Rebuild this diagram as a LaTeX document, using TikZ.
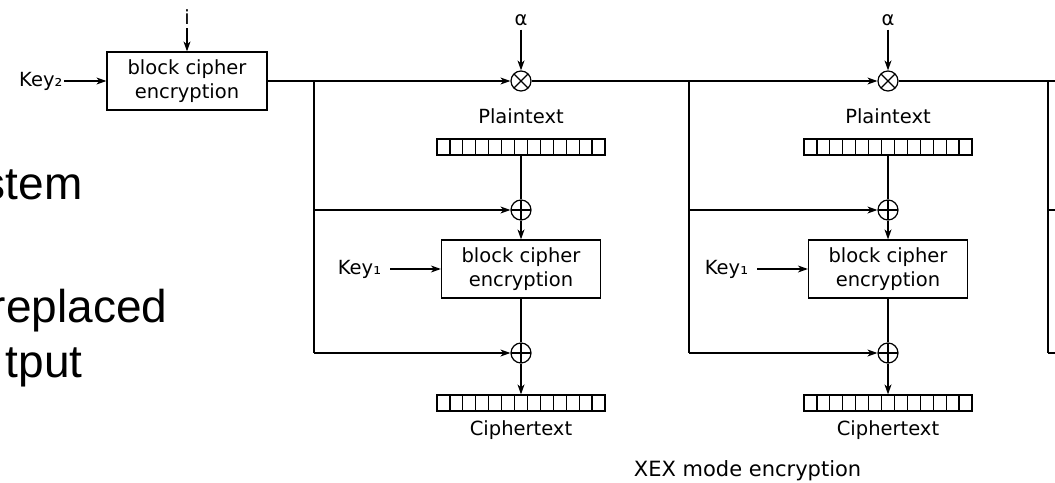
\documentclass[tikz,border=0pt]{standalone}
\usepackage{fontspec}
\usetikzlibrary{arrows.meta, positioning, calc}
\newfontfamily\diagfont{DejaVu Sans}
\newfontfamily\slidefont{Liberation Sans}

\begin{document}
\begin{tikzpicture}[
    x=1pt, y=-1pt,
    font=\diagfont\fontsize{19.5}{24}\selectfont,
    line width=1.2pt,
    cipher/.style={rectangle, draw, minimum width=159pt, minimum height=58pt, align=center, inner sep=0pt},
    arrow/.style={-{Stealth[length=10pt, width=7pt, inset=3pt]}},
    mulop/.style={circle, draw, minimum size=20pt, inner sep=0pt,
        path picture={\draw ($(path picture bounding box.center)+(45:10pt)$) -- ($(path picture bounding box.center)+(225:10pt)$)
                            ($(path picture bounding box.center)+(135:10pt)$) -- ($(path picture bounding box.center)+(315:10pt)$);}},
    xorop/.style={circle, draw, minimum size=20pt, inner sep=0pt,
        path picture={\draw (path picture bounding box.north) -- (path picture bounding box.south)
                            (path picture bounding box.west) -- (path picture bounding box.east);}},
    reg/.style={rectangle, draw, minimum width=168pt, minimum height=16pt, inner sep=0pt,
        path picture={\foreach \k in {1,...,12}
            \draw ($(path picture bounding box.north west)!\k/13!(path picture bounding box.north east)$)
               -- ($(path picture bounding box.south west)!\k/13!(path picture bounding box.south east)$);}},
    slide/.style={font=\slidefont\fontsize{46}{55}\selectfont, anchor=base east, inner sep=0pt}
]
    \useasboundingbox (0,0) rectangle (1055,482);
    \clip (0,0) rectangle (1055,482);

    % slide text cut by the left edge
    \node[slide] (s1) at (83,199) {stem};
    \node[slide] (s2) at (168,322) {replaced};
    \node[slide] (s3) at (83,377) {tput};

    % tweak encryption
    \node[cipher, minimum width=160pt] (tenc) at (187,81) {block cipher\\encryption};
    \node (idx) at (187,17) {i};
    \node[anchor=east, inner xsep=1pt] (key2) at (64,81) {Key₂};
    \draw[arrow] (idx) -- (tenc);
    \draw[arrow] (key2) -- (tenc);

    \coordinate (rim) at (1060,0);

    \foreach \n/\cx/\bx in {1/521/314, 2/888/689} {
        \node (alpha\n) at (\cx,20) {α};
        \node[mulop] (mul\n) at (\cx,81) {};
        \node[anchor=base] (pl\n) at (\cx,123) {Plaintext};
        \node[reg] (pt\n) at (\cx,147) {};
        \node[xorop] (xa\n) at (\cx,210) {};
        \node[cipher] (enc\n) at (\cx,269) {block cipher\\encryption};
        \node[anchor=east] (key\n) at (\cx-136,269) {Key₁};
        \node[xorop] (xb\n) at (\cx,353) {};
        \node[reg] (ct\n) at (\cx,403) {};
        \node[anchor=base] (cl\n) at (\cx,435) {Ciphertext};
        \coordinate (br\n) at (\bx,81);

        \draw[arrow] (alpha\n) -- (mul\n);
        \draw (pt\n) -- (xa\n);
        \draw[arrow] (xa\n) -- (enc\n);
        \draw[arrow, shorten <=5pt] (key\n.east) -- (enc\n);
        \draw (enc\n) -- (xb\n);
        \draw[arrow] (xb\n) -- (ct\n);
        \draw (br\n) -- (br\n |- xb\n);
        \draw[arrow] (br\n |- xa\n) -- (xa\n);
        \draw[arrow] (br\n |- xb\n) -- (xb\n);
    }

    % mask line
    \draw[arrow] (tenc.east) -- (mul1);
    \draw[arrow] (mul1) -- (mul2);
    \draw (mul2) -- (rim |- mul2);

    % next block, cut by the right edge
    \coordinate (br3) at (1048,81);
    \draw (br3) -- (br3 |- xb2);
    \draw (br3 |- xa2) -- (rim |- xa2);
    \draw (br3 |- xb2) -- (rim |- xb2);

    \node[anchor=base west, font=\diagfont\fontsize{21}{25}\selectfont] (cap) at (630,476) {XEX mode encryption};
\end{tikzpicture}
\end{document}
